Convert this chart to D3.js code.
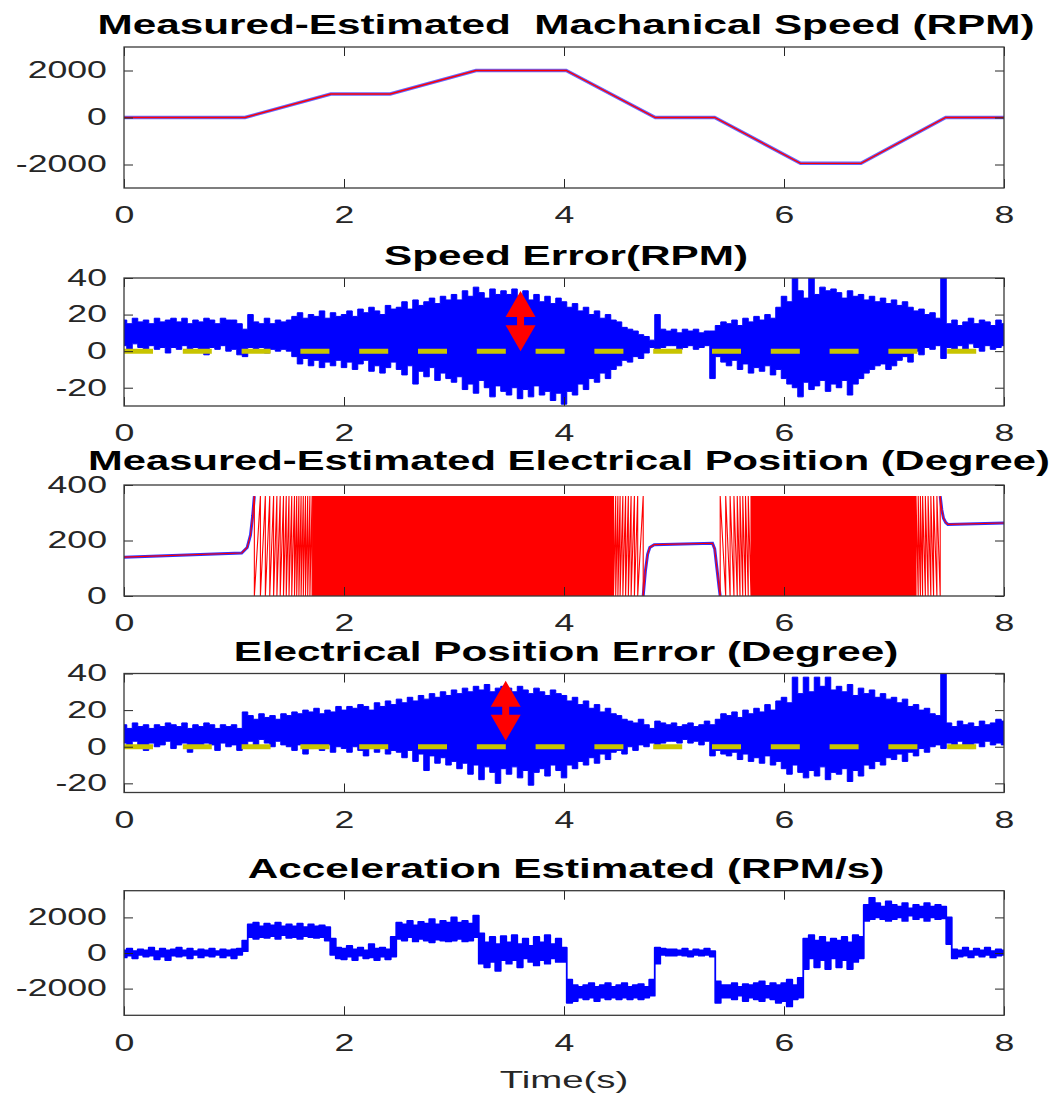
<!DOCTYPE html>
<html><head><meta charset="utf-8">
<script src="https://cdn.jsdelivr.net/npm/d3@7"></script>
<style>body{margin:0;background:#fff}</style>
</head><body><svg id="c" width="1063" height="1095"></svg>
<script>
// ---------------- DATA ----------------
const titles = ["Measured-Estimated  Machanical Speed (RPM)", "Speed Error(RPM)",
  "Measured-Estimated Electrical Position (Degree)", "Electrical Position Error (Degree)",
  "Acceleration Estimated (RPM/s)"];
const xLabel = "Time(s)";
const xTicks = [0, 2, 4, 6, 8];
const yTicks = [[-2000, 0, 2000], [-20, 0, 20, 40], [0, 200, 400], [-20, 0, 20, 40], [-2000, 0, 2000]];
const yDomains = [[-3000, 3000], [-30, 40], [0, 400], [-25, 40], [-3500, 3500]];

// Panel 1: mechanical speed knots
const speedT = [0, 1.1, 1.88, 2.42, 3.2, 4.02, 4.83, 5.37, 6.15, 6.7, 7.47, 8];
const speedMeasured = [0, 0, 1000, 1000, 2000, 2000, 0, 0, -1950, -1950, 0, 0];
const speedEstimated = [0, 0, 1000, 1000, 2000, 2000, 0, 0, -1950, -1950, 0, 0];

// Sampling instants of the noisy envelopes (every 0.05 s)
const sampleT = d3.range(161).map(i => +(i * 0.05).toFixed(2));

// Panel 2: speed error envelope (upper / lower)
const speedErrHi = [
17,15,18,16,17,15,18,16,17,18, 16,18,15,17,16,18,17,15,18,17,
17,15,12,20,16,15,18,15,17,16, 17,19,21,18,20,19,22,18,21,19,
20,22,19,23,21,24,22,20,25,23, 24,27,23,28,25,27,29,26,30,28,
31,28,33,30,35,32,29,34,31,33, 31,34,30,33,28,31,27,30,26,29,
27,24,26,22,24,20,22,18,20,17, 16,13,12,11,9,8,6,20,12,11,
12,10,12,11,12,10,11,11,14,16, 15,17,14,18,16,19,17,20,18,24,
30,27,42,33,29,42,31,35,33,34, 32,29,33,30,31,28,30,27,29,26,
28,25,27,24,22,23,20,21,18,42, 15,17,14,16,18,15,17,16,14,17, 15];
const speedErrLo = [
3,1,4,2,0,3,1,2,-1,2, 1,3,0,2,1,-2,2,1,3,0,
1,-2,-3,2,0,2,-1,1,0,1, 0,-3,-7,-4,-8,-5,-9,-6,-8,-5,
-9,-6,-10,-7,-5,-11,-8,-12,-9,-6, -10,-13,-8,-18,-11,-14,-9,-16,-12,-15,
-17,-14,-21,-18,-23,-16,-20,-25,-19,-22, -24,-20,-26,-21,-25,-19,-24,-22,-27,-23,
-29,-22,-24,-18,-21,-15,-17,-12,-15,-10, -8,-5,-6,-3,-4,-1,2,1,2,3,
3,1,2,3,1,2,3,-15,-3,-6, -8,-5,-10,-7,-12,-9,-11,-8,-13,-10,
-15,-18,-20,-25,-17,-21,-19,-16,-22,-18, -20,-16,-24,-18,-15,-12,-10,-8,-7,-10,
-8,-5,-3,-6,0,-2,2,1,3,-4, 2,0,3,1,4,2,0,3,1,2, 3];

// Panel 3: electrical position (red estimated, blue measured)
const posLeadT = [0, 1.07, 1.12, 1.15, 1.17, 1.185];
const posLeadV = [140, 155, 175, 220, 290, 360];
const posWrapsA = [1.185,1.24,1.285,1.325,1.36,1.39,1.42,1.45,1.475,1.5,1.525,1.55,1.57,1.59,1.61,1.63,1.65,1.67,1.69,1.71];
const posBandStart = [1.71, 5.7];
const posBandEnd = [4.45, 7.2];
const posWrapsB = [4.45,4.47,4.49,4.51,4.535,4.56,4.585,4.61,4.64,4.67,4.72];
const posMidT = [4.72, 4.74, 4.76, 4.78, 4.82, 5.35, 5.37, 5.39, 5.41, 5.42];
const posMidV = [0, 90, 150, 175, 185, 190, 170, 100, 30, 0];
const posWrapsC = [5.42,5.47,5.51,5.545,5.575,5.6,5.625,5.65,5.675,5.7];
const posWrapsD = [7.2,7.22,7.24,7.26,7.285,7.31,7.335,7.36,7.39,7.42];
const posTailT = [7.42, 7.435, 7.45, 7.47, 7.49, 8];
const posTailV = [360, 310, 280, 265, 258, 263];

// Panel 4: position error envelope
const posErrHi = [
12,10,13,11,12,10,12,11,13,12, 11,13,10,12,11,13,12,10,12,11,
12,10,19,17,15,18,16,17,15,18, 17,19,18,20,19,21,18,20,19,22,
20,22,21,23,22,20,24,22,25,23, 26,24,27,25,28,26,29,27,30,28,
31,29,32,30,33,31,34,30,32,33, 32,30,33,31,29,32,30,28,31,29,
28,25,27,23,25,21,23,19,21,18, 17,15,14,13,15,12,10,14,13,12,
13,11,12,13,11,12,14,12,15,18, 17,19,16,20,18,21,19,23,20,25,
27,24,38,29,38,30,38,33,38,31, 33,30,34,28,32,29,31,27,29,26,
27,24,26,22,23,20,21,18,17,42, 13,11,14,12,13,11,14,12,13,15, 14];
const posErrLo = [
2,0,3,1,-2,2,0,1,3,-1, 1,2,-3,1,0,2,1,-2,2,0,
1,-2,0,3,1,4,2,0,3,1, 0,-2,1,-4,-1,0,-2,1,-3,0,
-1,-3,0,-2,-5,-1,-3,0,-4,-2, -3,-6,-2,-8,-4,-13,-5,-9,-6,-10,
-8,-12,-9,-15,-10,-18,-11,-14,-20,-12, -15,-11,-17,-13,-21,-14,-12,-16,-10,-13,
-17,-10,-12,-8,-10,-6,-9,-4,-7,-3, -2,-4,0,-2,1,0,2,-1,2,3,
3,2,4,2,3,1,3,-5,-2,-4, -5,-3,-7,-4,-8,-6,-9,-5,-10,-8,
-12,-15,-10,-14,-17,-13,-16,-11,-18,-14, -15,-12,-19,-13,-16,-10,-12,-8,-10,-6,
-7,-4,-8,-3,-5,-1,-3,0,1,-1, 2,0,3,1,-1,2,0,3,1,2, 1];

// Error arrows (time, lower tip, upper tip) for panels 2 and 4
const arrowT = [3.605, 3.47];
const arrowLo = [0, 3.3];
const arrowHi = [32.9, 36];

// Panel 5: acceleration envelope
const accHi = [
150,250,100,200,150,300,100,250,150,200, 300,150,250,100,200,150,250,100,200,150,
200,250,700,1600,1700,1500,1650,1550,1700,1500, 1600,1500,1650,1450,1600,1500,1550,1450,800,300,
250,400,200,300,150,500,250,300,200,900, 1700,1600,1800,1550,1750,1650,1900,1600,1800,1700,
2000,1700,1800,1650,2100,1100,600,900,500,950, 600,1000,500,800,400,900,600,1000,500,800,
300,-1500,-1800,-1900,-1800,-1700,-1900,-1800,-1700,-1900, -1800,-1700,-1900,-1800,-1750,-1900,-1500,300,250,200,
200,150,250,100,200,150,250,100,-1600,-1800, -1800,-1700,-1900,-1750,-1800,-1700,-1600,-1850,-1700,-1800,
-1700,-1500,-1800,-1400,800,1000,700,900,600,800, 700,900,600,1000,900,2700,3100,2800,2600,2900,
2700,2600,2800,2500,2700,2600,2800,2600,2700,2600, 2000,200,150,300,100,250,150,300,100,200, 150];
const accLo = [
-250,-150,-300,-100,-200,-150,-350,-200,-400,-150, -200,-150,-300,-100,-250,-150,-200,-100,-250,-150,
-300,-100,100,900,800,900,850,950,800,1000, 850,900,800,950,900,850,900,700,-100,-300,
-350,-200,-400,-150,-300,-250,-400,-200,-350,-200, 800,700,900,650,800,700,600,750,700,650,
700,800,650,700,900,-600,-800,-500,-1000,-400, -600,-400,-800,-300,-500,-700,-400,-600,-300,-500,
-500,-2800,-2700,-2500,-2600,-2500,-2700,-2500,-2600,-2500, -2600,-2500,-2600,-2500,-2600,-2500,-2400,-600,-100,-150,
-150,-100,-150,-200,-100,-150,-100,-200,-2800,-2500, -2500,-2600,-2400,-2700,-2500,-2600,-2700,-2500,-2600,-2800,
-2700,-3000,-2600,-2500,-900,-300,-800,-400,-900,-300, -800,-400,-900,-500,-300,1800,1900,2000,1900,1800,
1900,2000,1800,2100,1900,2000,1800,2000,1900,1950, 500,-300,-200,-150,-250,-100,-200,-100,-250,-150, -100];

// ---------------- LAYOUT / STYLE ----------------
const FONT = '"Liberation Sans", Arial, Helvetica, sans-serif';
const AX = '#262626';
const BLUE = '#0000ff', RED = '#ff0000', YEL = '#c8c400';
const xL = 124, xR = 1004;
const tops = [47, 278, 485, 673.5, 890.7];
const bottoms = [188, 406, 596, 792.5, 1015.3];
const titleGap = [13, 13, 15, 13, 13];
const TX = 1.55;   // horizontal stretch of text in the original picture

const svg = d3.select('#c');
const x = d3.scaleLinear().domain([0, 8]).range([xL, xR]);

const panels = tops.map((t, i) => {
  const y = d3.scaleLinear().domain(yDomains[i]).range([bottoms[i], t]);
  const g = svg.append('g');
  const cid = 'clip' + i;
  svg.append('clipPath').attr('id', cid).append('rect')
    .attr('x', xL).attr('y', t).attr('width', xR - xL).attr('height', bottoms[i] - t);
  const plot = g.append('g').attr('clip-path', `url(#${cid})`);
  return {y, g, plot, top: t, bottom: bottoms[i]};
});

// ---- Panel 1
{
  const {y, plot} = panels[0];
  const line = d3.line().x(d => x(d[0])).y(d => y(d[1]));
  plot.append('path').datum(speedT.map((t, i) => [t, speedMeasured[i]]))
    .attr('d', line).attr('fill', 'none').attr('stroke', '#4040ff').attr('stroke-width', 3.5).attr('opacity', 0.8);
  plot.append('path').datum(speedT.map((t, i) => [t, speedEstimated[i]]))
    .attr('d', line).attr('fill', 'none').attr('stroke', RED).attr('stroke-width', 1.4);
}

// helper: envelope band (dense noisy trace)
function band(p, hi, lo, sw) {
  const {y, plot} = panels[p];
  const data = sampleT.map((t, i) => ({t, hi: hi[i], lo: lo[i]}));
  plot.append('path').datum(data)
    .attr('d', d3.area().curve(d3.curveStep).x(d => x(d.t)).y0(d => y(d.lo)).y1(d => y(d.hi)))
    .attr('fill', BLUE).attr('stroke', BLUE).attr('stroke-width', sw).attr('stroke-linejoin', 'round');
}
function zeroDash(p) {
  const {y, plot} = panels[p];
  plot.append('path').datum([[0, 0], [8, 0]])
    .attr('d', d3.line().x(d => x(d[0])).y(d => y(d[1])))
    .attr('stroke', YEL).attr('stroke-width', 5).attr('stroke-dasharray', '29,29.8').attr('fill', 'none');
}
function arrow(p, k) {
  const {y, g} = panels[p];
  const cx = x(arrowT[k]), yb = y(arrowLo[k]), yt = y(arrowHi[k]);
  const hl = 26, hw = 15, sw = 3.5;
  const pts = [[cx, yt], [cx + hw, yt + hl], [cx + sw, yt + hl], [cx + sw, yb - hl], [cx + hw, yb - hl], [cx, yb],
    [cx - hw, yb - hl], [cx - sw, yb - hl], [cx - sw, yt + hl], [cx - hw, yt + hl]];
  g.append('path').attr('d', 'M' + pts.map(q => q.join(',')).join('L') + 'Z').attr('fill', RED);
}

// ---- Panel 2
band(1, speedErrHi, speedErrLo, 1);
zeroDash(1);

// ---- Panel 3
{
  const {y, plot} = panels[2];
  const line = d3.line().x(d => x(d[0])).y(d => y(d[1]));
  const lead = posLeadT.map((t, i) => [t, posLeadV[i]]);
  const mid = posMidT.map((t, i) => [t, posMidV[i]]);
  const tail = posTailT.map((t, i) => [t, posTailV[i]]);
  [lead, mid, tail].forEach(d => plot.append('path').datum(d).attr('d', line)
    .attr('fill', 'none').attr('stroke', '#3030ff').attr('stroke-width', 3));
  posBandStart.forEach((s, i) => {
    plot.append('path').datum([[s, 0], [posBandEnd[i], 0]])
      .attr('d', d3.area().x(d => x(d[0])).y0(y(0)).y1(y(360)))
      .attr('fill', RED);
  });
  const saw = (w, up) => w.flatMap(t => up ? [[t, 360], [t, 0]] : [[t, 0], [t, 360]]);
  [lead, saw(posWrapsA, true), saw(posWrapsB, true), mid, saw(posWrapsC, false), saw(posWrapsD, false), tail]
    .forEach(d => plot.append('path').datum(d).attr('d', line)
      .attr('fill', 'none').attr('stroke', RED).attr('stroke-width', 1.1));
}

// ---- Panel 4
band(3, posErrHi, posErrLo, 1);
zeroDash(3);

// ---- Panel 5
band(4, accHi, accLo, 1.8);

// ---- Axes, box, titles
panels.forEach((P, i) => {
  const {y, g, top, bottom} = P;
  const fmt = d => String(d);
  const style = (sel, labels) => {
    sel.select('.domain').remove();
    sel.selectAll('line').attr('stroke', AX).attr('stroke-width', 1);
    sel.selectAll('text').attr('font-size', 23).attr('font-family', FONT).attr('fill', AX)
      .attr('transform', `scale(${TX},1)`);
    if (!labels) sel.selectAll('text').remove();
  };
  g.append('g').attr('transform', `translate(${xL},0)`)
    .call(d3.axisLeft(y).tickValues(yTicks[i]).tickSize(-9).tickSizeOuter(0).tickPadding(11).tickFormat(fmt))
    .call(s => style(s, true));
  g.append('g').attr('transform', `translate(${xR},0)`)
    .call(d3.axisRight(y).tickValues(yTicks[i]).tickSize(-9).tickSizeOuter(0))
    .call(s => style(s, false));
  g.append('g').attr('transform', `translate(0,${bottom})`)
    .call(d3.axisBottom(x).tickValues(xTicks).tickSize(-9).tickSizeOuter(0).tickPadding(19).tickFormat(fmt))
    .call(s => style(s, true));
  g.append('g').attr('transform', `translate(0,${top})`)
    .call(d3.axisTop(x).tickValues(xTicks).tickSize(-9).tickSizeOuter(0))
    .call(s => style(s, false));
  g.append('rect').attr('x', xL).attr('y', top).attr('width', xR - xL).attr('height', bottom - top)
    .attr('fill', 'none').attr('stroke', '#3a3a3a').attr('stroke-width', 1.3);
  g.append('text').attr('transform', `translate(${(xL + xR) / 2 + (i === 2 ? 5 : 2)},${top - titleGap[i]}) scale(${i === 2 ? 1.49 : 1.51},1)`)
    .attr('text-anchor', 'middle').attr('font-family', FONT).attr('font-weight', 'bold')
    .attr('font-size', 28).attr('fill', '#000').style('white-space', 'pre').text(titles[i]);
});

arrow(1, 0);
arrow(3, 1);

svg.append('text').attr('transform', `translate(${(xL + xR) / 2},1088) scale(1.6,1)`)
  .attr('text-anchor', 'middle').attr('font-family', FONT).attr('font-size', 24).attr('fill', AX).text(xLabel);
</script>
</body></html>
